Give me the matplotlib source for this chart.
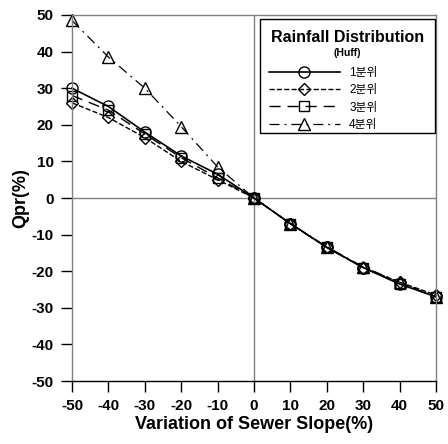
import numpy as np
import matplotlib
matplotlib.use("Agg")
from matplotlib import pyplot as plt
from matplotlib.patches import Rectangle

plt.rcParams['font.family'] = ['Liberation Sans', 'Noto Sans CJK KR', 'DejaVu Sans']
plt.rcParams['axes.unicode_minus'] = False

# data
slope = [-50, -40, -30, -20, -10, 0, 10, 20, 30, 40, 50]
q1 = [30, 25, 18, 11.5, 6.5, 0, -7, -13.5, -19, -23.5, -27]
q2 = [26, 22, 16.5, 10, 5, 0, -7, -13.5, -19, -23, -26.5]
q3 = [28, 24, 17.5, 11, 5.5, 0, -7, -13.5, -19, -23.5, -27]
q4 = [48.5, 38.5, 30, 19.5, 8.5, 0, -7, -13.3, -18.8, -23, -27]
labels = ['1분위', '2분위', '3분위', '4분위']

W, H = 448, 444
fig = plt.figure(figsize=(W/100, H/100), dpi=100)
ax = fig.add_axes([72/W, 1-381/H, (436-72)/W, (381-15)/H])

ms = 8
ax.plot(slope, q1, '-', color='k', lw=1.2, marker='o', mfc='none', mec='k', ms=ms, label=labels[0], clip_on=False)
ax.plot(slope, q2, '--', color='k', lw=1.0, marker='D', mfc='none', mec='k', ms=ms-2, label=labels[1], clip_on=False)
ax.plot(slope, q3, color='k', lw=1.0, ls=(0, (8, 5)), marker='s', mfc='none', mec='k', ms=ms-1, label=labels[2], clip_on=False)
ax.plot(slope, q4, color='k', lw=0.9, ls=(0, (8, 4, 1.5, 4)), marker='^', mfc='none', mec='k', ms=ms+1, label=labels[3], clip_on=False)

ax.axhline(0, color='gray', lw=1, zorder=0)
ax.axvline(0, color='gray', lw=1, zorder=0)

ax.set_xlim(-50, 50)
ax.set_ylim(-50, 50)
ax.set_xticks(np.arange(-50, 51, 10))
ax.set_yticks(np.arange(-50, 51, 10))
ax.tick_params(direction='out', length=8, width=1, labelsize=11, color='k', pad=5)
for t in ax.get_xticklabels() + ax.get_yticklabels():
    t.set_fontweight('bold')
for s in ax.spines.values():
    s.set_color('gray')
    s.set_linewidth(1)
ax.spines['bottom'].set_color('k')

ax.set_xlabel('Variation of Sewer Slope(%)', fontsize=13, fontweight='bold', labelpad=2)
ax.set_ylabel('Qpr(%)', fontsize=13, fontweight='bold', labelpad=2)

# legend box drawn by hand: frame, title, subtitle, then entries
bx0, bx1, by0, by1 = 260, 435, 19, 133
fig.add_artist(Rectangle((bx0/W, 1-by1/H), (bx1-bx0)/W, (by1-by0)/H, transform=fig.transFigure,
                         fill=True, fc='white', ec='k', lw=1, zorder=5))
fig.text((bx0+bx1)/2/W, 1-37/H, 'Rainfall Distribution', ha='center', va='center',
         fontsize=11.5, fontweight='bold', zorder=6)
fig.text((bx0+bx1)/2/W, 1-53/H, '(Huff)', ha='center', va='center',
         fontsize=7.5, fontweight='bold', zorder=6)
leg = fig.legend(*ax.get_legend_handles_labels(), loc='upper left', fontsize=8.5,
                 handlelength=6.0, handletextpad=0.8, frameon=False, borderpad=0,
                 labelspacing=0.45, bbox_to_anchor=(263/W, 1-61/H))
leg.set_zorder(7)

fig.savefig('out.png', dpi=100)
